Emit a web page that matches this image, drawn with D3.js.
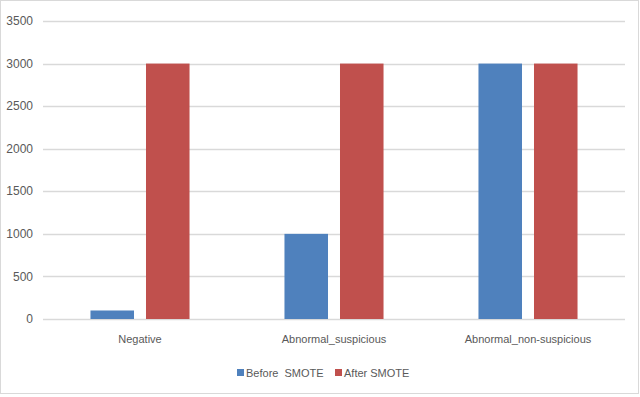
<!DOCTYPE html>
<html>
<head>
<meta charset="utf-8">
<script src="https://cdn.jsdelivr.net/npm/d3@7"></script>
<style>
  body { margin: 0; background: #fff; }
  text { font-family: "Liberation Sans Narrow", "Liberation Sans", sans-serif; fill: #595959; }
</style>
</head>
<body>
<div id="chart"></div>
<script>
const categories = ["Negative", "Abnormal_suspicious", "Abnormal_non-suspicious"];
const seriesNames = ["Before  SMOTE", "After SMOTE"];
const beforeSmote = [100, 1000, 3000];
const afterSmote = [3000, 3000, 3000];
const yTicks = [0, 500, 1000, 1500, 2000, 2500, 3000, 3500];
const colors = ["#4f81bd", "#c0504d"];

const width = 640, height = 397;
const svg = d3.select("#chart").append("svg")
  .attr("width", width).attr("height", height);

// outer chart border
svg.append("rect")
  .attr("x", 0.5).attr("y", 0.5)
  .attr("width", width - 2).attr("height", height - 4)
  .attr("fill", "#fff").attr("stroke", "#d9d9d9");

const x = d3.scaleBand().domain(categories).range([43, 625]);
const y = d3.scaleLinear().domain([0, 3500]).range([319, 21]);
const inner = d3.scaleBand().domain([0, 1]).range([0, x.bandwidth()])
  .paddingInner(0.216).paddingOuter(0.855);

// gridlines
svg.append("g").selectAll("line")
  .data(yTicks)
  .join("line")
  .attr("x1", 43).attr("x2", 625)
  .attr("y1", d => Math.round(y(d)) + 0.5)
  .attr("y2", d => Math.round(y(d)) + 0.5)
  .attr("stroke", "#d9d9d9").attr("stroke-width", 1.3);

// y tick labels
svg.append("g").selectAll("text")
  .data(yTicks)
  .join("text")
  .attr("x", 33).attr("y", d => y(d))
  .attr("dy", "0.35em")
  .attr("text-anchor", "end")
  .attr("font-size", 12)
  .text(d => d);

const rows = categories.map((c, i) => ({ cat: c, vals: [beforeSmote[i], afterSmote[i]] }));

svg.append("g").selectAll("g")
  .data(rows)
  .join("g")
  .attr("transform", d => `translate(${x(d.cat)},0)`)
  .selectAll("rect")
  .data(d => d.vals.map((v, i) => ({ v, i })))
  .join("rect")
  .attr("x", d => inner(d.i))
  .attr("width", inner.bandwidth())
  .attr("y", d => y(d.v))
  .attr("height", d => y(0) - y(d.v))
  .attr("fill", d => colors[d.i]);

// category labels
svg.append("g").selectAll("text")
  .data(categories)
  .join("text")
  .attr("x", d => x(d) + x.bandwidth() / 2)
  .attr("y", 343)
  .attr("text-anchor", "middle")
  .attr("font-size", 11)
  .text(d => d);

// legend
const legend = svg.append("g");
const legendX = [237, 335];
seriesNames.forEach((name, i) => {
  legend.append("rect")
    .attr("x", legendX[i]).attr("y", 369)
    .attr("width", 7).attr("height", 7)
    .attr("fill", colors[i]);
  legend.append("text")
    .attr("x", legendX[i] + 9).attr("y", 373)
    .attr("dy", "0.35em")
    .attr("font-size", 11)
    .attr("xml:space", "preserve")
    .style("white-space", "pre")
    .text(name);
});
</script>
</body>
</html>
